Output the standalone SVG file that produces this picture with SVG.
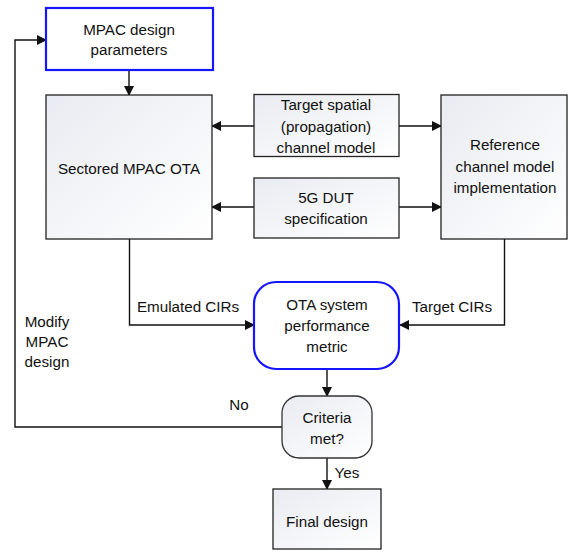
<svg xmlns="http://www.w3.org/2000/svg" width="571" height="552" viewBox="0 0 571 552">
<style>
.box{fill:url(#g);stroke:#222;stroke-width:1.3}
.blue{fill:#fff;stroke:#1515ff;stroke-width:2.2}
.dec{fill:url(#g);stroke:#333;stroke-width:1.3}
text{font-family:"Liberation Sans",Arial,sans-serif;font-size:15.2px;fill:#111;text-anchor:middle}
.ln{fill:none;stroke:#111;stroke-width:1.4}
</style>
<defs>
<linearGradient id="g" x1="0" y1="0" x2="1" y2="1">
<stop offset="0" stop-color="#e8ebf1"/>
<stop offset="1" stop-color="#ffffff"/>
</linearGradient>
<marker id="a" markerWidth="10" markerHeight="10" refX="9" refY="5" orient="auto" markerUnits="userSpaceOnUse">
<path d="M0,0 L10,5 L0,10 z" fill="#111"/>
</marker>
</defs>
<g id="connectors">
<path class="ln" d="M129,70 V95" marker-end="url(#a)"/>
<path class="ln" d="M254,126 H212" marker-end="url(#a)"/>
<path class="ln" d="M399,126 H441" marker-end="url(#a)"/>
<path class="ln" d="M254,207 H212" marker-end="url(#a)"/>
<path class="ln" d="M399,207 H441" marker-end="url(#a)"/>
<path class="ln" d="M129.5,239 V325 H254" marker-end="url(#a)"/>
<path class="ln" d="M504.5,239 V325 H400" marker-end="url(#a)"/>
<path class="ln" d="M327,369 V396" marker-end="url(#a)"/>
<path class="ln" d="M327,458 V489" marker-end="url(#a)"/>
<path class="ln" d="M282,427 H15 V40 H46" marker-end="url(#a)"/>
<text x="188" y="312">Emulated CIRs</text>
<text x="452" y="312">Target CIRs</text>
<text x="47" y="327">Modify</text>
<text x="47" y="347">MPAC</text>
<text x="47" y="367">design</text>
<text x="239" y="410">No</text>
<text x="347" y="478">Yes</text>
</g>
<g id="mpac">
<rect class="blue" x="46" y="8" width="167" height="62"/>
<text x="129" y="35">MPAC design</text>
<text x="129" y="55">parameters</text>
</g>
<g id="sectored">
<rect class="box" x="46" y="95" width="166" height="144"/>
<text x="129" y="174">Sectored MPAC OTA</text>
</g>
<g id="target">
<rect class="box" x="254" y="94.5" width="145" height="62"/>
<text x="326" y="110">Target spatial</text>
<text x="326" y="131.5">(propagation)</text>
<text x="326" y="153">channel model</text>
</g>
<g id="dut">
<rect class="box" x="254" y="178" width="145" height="60"/>
<text x="326" y="203">5G DUT</text>
<text x="326" y="224">specification</text>
</g>
<g id="reference">
<rect class="box" x="441" y="95" width="126" height="144"/>
<text x="505" y="150">Reference</text>
<text x="505" y="172">channel model</text>
<text x="505" y="193">implementation</text>
</g>
<g id="ota">
<rect class="blue" x="254" y="282" width="145" height="87" rx="22"/>
<text x="327" y="310">OTA system</text>
<text x="327" y="331">performance</text>
<text x="327" y="352">metric</text>
</g>
<g id="criteria">
<rect class="dec" x="282" y="396" width="90" height="62" rx="17"/>
<text x="327" y="423">Criteria</text>
<text x="327" y="444">met?</text>
</g>
<g id="final">
<rect class="box" x="273" y="489" width="108" height="60"/>
<text x="327" y="527">Final design</text>
</g>
</svg>
